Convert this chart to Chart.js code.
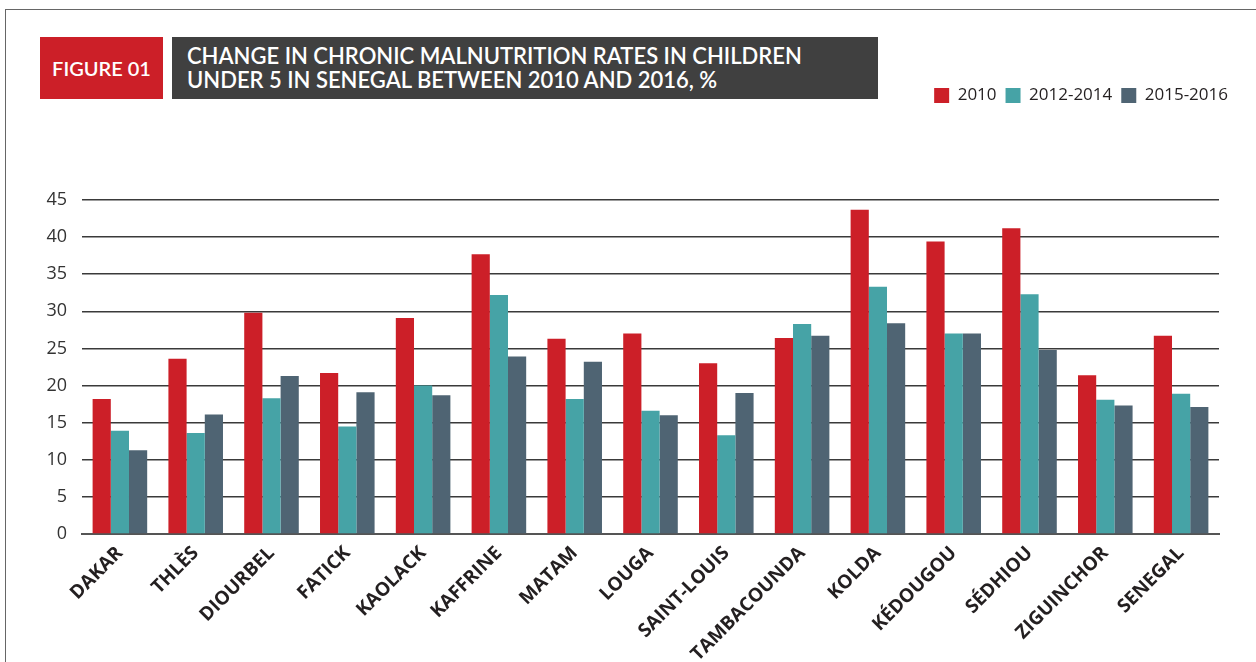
<!DOCTYPE html>
<html>
<head>
<meta charset="utf-8">
<script src="https://cdn.jsdelivr.net/npm/chart.js@4/dist/chart.umd.min.js"></script>
<style>
  html, body { margin: 0; padding: 0; background: #fff; }
  #wrap { position: relative; width: 1256px; height: 662px; overflow: hidden; }
  #frame { position: absolute; left: 5px; top: 9px; right: -2px; bottom: -2px; border-left: 1.5px solid #666; border-top: 1.5px solid #666; }
  #fig { position: absolute; left: 40px; top: 37px; width: 123px; height: 62px; background: #cc1f28; color: #fff;
         font: 600 20px Lato, sans-serif; display: flex; align-items: center; justify-content: center; }
  #title { position: absolute; left: 172px; top: 37px; width: 706px; height: 62px; background: #404040; color: #fff;
           font: 600 22px Lato, sans-serif; line-height: 24px; box-sizing: border-box; padding: 7px 0 0 15px; }
  canvas { position: absolute; left: 0; top: 0; }
</style>
</head>
<body>
<div id="wrap">
  <div id="frame"></div>
  <div id="fig">FIGURE 01</div>
  <div id="title">CHANGE IN CHRONIC MALNUTRITION RATES IN CHILDREN<br>UNDER 5 IN SENEGAL BETWEEN 2010 AND 2016, %</div>
  <canvas id="chart" width="1256" height="662"></canvas>
</div>
<script>
// -------------------------------------------- data
const regions = ['DAKAR', 'THLÈS', 'DIOURBEL', 'FATICK', 'KAOLACK', 'KAFFRINE', 'MATAM', 'LOUGA',
    'SAINT-LOUIS', 'TAMBACOUNDA', 'KOLDA', 'KÉDOUGOU', 'SÉDHIOU', 'ZIGUINCHOR', 'SENEGAL'];
const rates2010 = [18.2, 23.6, 29.8, 21.7, 29.1, 37.7, 26.3, 27.0, 23.0, 26.4, 43.7, 39.4, 41.2, 21.4, 26.7];
const rates2012 = [13.9, 13.6, 18.3, 14.5, 20.0, 32.2, 18.2, 16.6, 13.3, 28.3, 33.3, 27.0, 32.3, 18.1, 18.9];
const rates2015 = [11.3, 16.1, 21.3, 19.1, 18.7, 23.9, 23.2, 16.0, 19.0, 26.7, 28.4, 27.0, 24.8, 17.3, 17.1];
const yTicks = [0, 5, 10, 15, 20, 25, 30, 35, 40, 45];

// push the plot down below the legend, and nudge the legend to the right edge
const legendGap = {
    id: 'legendGap',
    beforeInit(chart) {
        const fit = chart.legend.fit;
        chart.legend.fit = function() {
            fit.bind(chart.legend)();
            this.height += 86;
        };
    },
    afterLayout(chart) {
        chart.legend.left += 18;
        chart.legend.right += 18;
    }
};

const ctx = document.querySelector('#chart').getContext('2d');
const chart = new Chart(ctx, {
    type: 'bar',
    data: {
        labels: regions,
        datasets: [
            { label: '2010', data: rates2010, backgroundColor: '#cc1f28' },
            { label: '2012-2014', data: rates2012, backgroundColor: '#46a3a6' },
            { label: '2015-2016', data: rates2015, backgroundColor: '#4f6473' }
        ]
    },
    options: {
        responsive: false,
        animation: false,
        layout: { padding: { left: 22, right: 37, top: 78, bottom: 0 } },
        datasets: { bar: { categoryPercentage: 0.72, barPercentage: 1.0 } },
        plugins: {
            title: { display: false },
            tooltip: { enabled: false },
            legend: {
                position: 'top',
                align: 'end',
                labels: {
                    boxWidth: 15,
                    boxHeight: 15,
                    padding: 9,
                    color: '#231f20',
                    font: { family: 'Open Sans', size: 17 }
                }
            }
        },
        scales: {
            x: {
                grid: { display: false },
                border: { color: '#555', width: 2 },
                afterFit: (scale) => { scale.height = 128; },
                ticks: {
                    minRotation: 45,
                    maxRotation: 45,
                    autoSkip: false,
                    color: '#231f20',
                    padding: 0,
                    font: { family: 'Open Sans', size: 19, weight: 'bold' }
                }
            },
            y: {
                min: 0,
                max: 45,
                afterFit: (scale) => { scale.width = 60; },
                afterBuildTicks: (scale) => { scale.ticks = yTicks.map((v) => ({ value: v })); },
                border: { display: false },
                grid: { color: '#3a3a3a', lineWidth: 1.5, drawTicks: false },
                ticks: {
                    color: '#333',
                    padding: 15,
                    font: { family: 'Open Sans', size: 18 }
                }
            }
        }
    },
    plugins: [legendGap]
});
</script>
</body>
</html>
